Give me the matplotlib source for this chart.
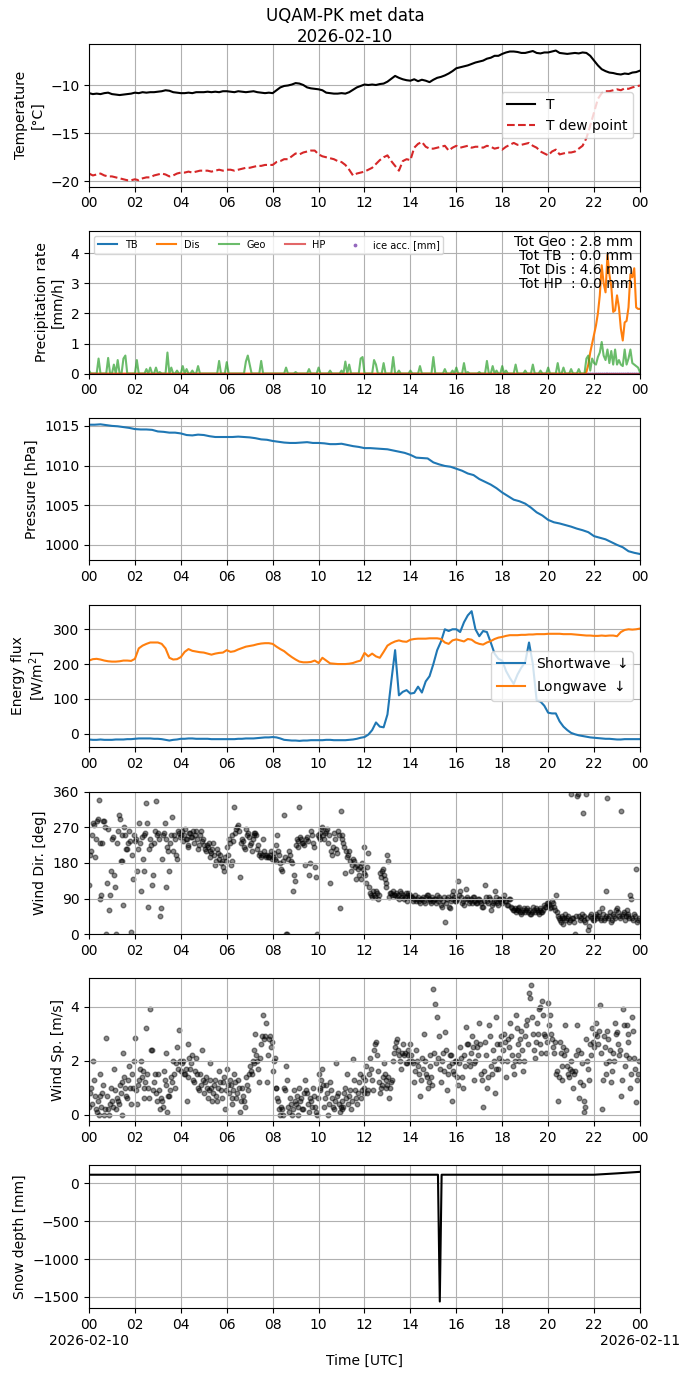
import numpy as np
import pandas as pd
import matplotlib
matplotlib.use('Agg')
import matplotlib.pyplot as plt
import matplotlib.dates as mdates
from matplotlib.ticker import FuncFormatter

day = pd.Timestamp('2026-02-10')

# --- temperature, 10 min steps [degC]
temp = [
    -10.8, -10.9, -10.85, -10.9, -10.8, -10.75,
    -10.9, -10.95, -11.0, -10.95, -10.9, -10.85,
    -10.75, -10.8, -10.7, -10.75, -10.7, -10.7,
    -10.65, -10.6, -10.5, -10.55, -10.7, -10.75,
    -10.8, -10.8, -10.75, -10.8, -10.7, -10.7,
    -10.7, -10.65, -10.7, -10.65, -10.7, -10.6,
    -10.6, -10.65, -10.7, -10.6, -10.65, -10.7,
    -10.65, -10.6, -10.7, -10.75, -10.8, -10.75,
    -10.8, -10.5, -10.2, -10.05, -10.0, -9.9,
    -9.75, -9.8, -9.95, -10.2, -10.3, -10.35,
    -10.4, -10.5, -10.75, -10.8, -10.85, -10.85,
    -10.8, -10.85, -10.7, -10.45, -10.2, -10.05,
    -9.9, -9.95, -9.9, -9.95, -9.85, -9.8,
    -9.6, -9.3, -9.0, -9.2, -9.35, -9.45,
    -9.5, -9.35, -9.55, -9.4, -9.5, -9.65,
    -9.4, -9.2, -9.1, -8.95, -8.75, -8.5,
    -8.2, -8.1, -8.0, -7.9, -7.75, -7.6,
    -7.5, -7.4, -7.2, -7.1, -6.9, -6.9,
    -6.7, -6.55, -6.45, -6.45, -6.5, -6.6,
    -6.6, -6.5, -6.4, -6.6, -6.65, -6.55,
    -6.55, -6.45, -6.35, -6.6, -6.65, -6.7,
    -6.65, -6.6, -6.65, -6.55, -6.6, -6.9,
    -7.4, -7.9, -8.3, -8.5, -8.65, -8.7,
    -8.8, -8.85, -8.75, -8.8, -8.65, -8.6,
    -8.45,
]
dew_point = [
    -19.2, -19.4, -19.3, -19.2, -19.4, -19.5,
    -19.5, -19.6, -19.7, -19.8, -19.9, -19.9,
    -19.8, -19.9, -19.7, -19.6, -19.6, -19.4,
    -19.3, -19.2, -19.3, -19.5, -19.4, -19.2,
    -19.1, -19.1, -19.0, -19.1, -19.0, -18.9,
    -18.9, -18.9, -19.0, -18.9, -18.8, -18.9,
    -18.8, -18.8, -18.9, -18.8, -18.7, -18.6,
    -18.6, -18.5, -18.4, -18.4, -18.3, -18.3,
    -18.3, -18.0, -17.9, -17.7, -17.7, -17.4,
    -17.1, -17.2, -17.0, -16.9, -16.8, -16.8,
    -17.2, -17.4, -17.5, -17.6, -17.7, -17.9,
    -18.0, -18.3, -18.8, -19.4, -19.2, -19.1,
    -19.0, -18.8, -18.6, -18.2, -17.8, -17.5,
    -17.3, -17.9, -18.4, -18.9, -17.9, -17.7,
    -17.8, -16.5, -16.1, -15.9, -16.4, -16.6,
    -16.6, -16.5, -16.4, -16.3, -16.8, -16.5,
    -16.3, -16.5, -16.4, -16.3, -16.5, -16.4,
    -16.4, -16.5, -16.3, -16.4, -16.6, -16.5,
    -16.7, -16.4, -16.2, -16.0, -16.2, -16.2,
    -16.1, -16.0, -16.3, -16.5, -16.9, -17.1,
    -17.3, -16.9, -16.7, -17.2, -17.1, -17.0,
    -17.0, -16.9, -16.6, -16.3, -15.5, -14.2,
    -12.8, -11.4, -10.8, -10.6, -10.6, -10.5,
    -10.4, -10.5, -10.3, -10.35, -10.2, -10.1,
    -10.0,
]

# --- precipitation rate, 5 min steps [mm/h]
geo_rate = [
    0.1, 0, 0, 0, 0, 0.5, 0, 0, 0, 0, 0.52, 0,
    0, 0.3, 0, 0.45, 0, 0, 0.5, 0.6, 0, 0, 0, 0,
    0, 0.45, 0, 0, 0, 0, 0.15, 0, 0.2, 0, 0, 0.2,
    0, 0.05, 0, 0, 0, 0.7, 0, 0.2, 0, 0, 0.1, 0,
    0, 0.25, 0, 0.15, 0, 0, 0.1, 0, 0, 0.25, 0, 0,
    0, 0, 0, 0, 0, 0, 0, 0, 0.42, 0, 0, 0,
    0.38, 0, 0, 0, 0, 0, 0, 0, 0, 0, 0.4, 0.6,
    0.3, 0, 0, 0, 0, 0, 0.42, 0, 0, 0, 0, 0,
    0, 0, 0, 0, 0, 0, 0, 0.2, 0, 0, 0, 0,
    0.05, 0, 0, 0, 0, 0, 0, 0.15, 0, 0, 0, 0,
    0.2, 0, 0, 0, 0, 0, 0.1, 0, 0, 0, 0, 0,
    0.1, 0, 0.4, 0, 0.3, 0, 0, 0, 0, 0, 0.5, 0.55,
    0, 0, 0, 0, 0, 0.45, 0.3, 0, 0, 0, 0.35, 0,
    0, 0, 0, 0.55, 0, 0, 0.1, 0, 0, 0, 0, 0,
    0.1, 0, 0, 0, 0, 0.25, 0, 0, 0, 0, 0, 0,
    0.55, 0, 0, 0, 0, 0, 0.15, 0, 0, 0, 0.1, 0,
    0.2, 0, 0, 0, 0.35, 0, 0.05, 0, 0, 0, 0, 0,
    0.05, 0, 0, 0, 0.42, 0, 0, 0.25, 0, 0.1, 0, 0,
    0.25, 0, 0.1, 0, 0, 0, 0, 0.3, 0, 0, 0, 0,
    0.1, 0, 0, 0, 0.3, 0, 0, 0, 0.1, 0, 0, 0,
    0.2, 0, 0, 0, 0, 0.35, 0, 0, 0.2, 0, 0, 0,
    0.15, 0, 0, 0, 0.15, 0, 0, 0, 0.5, 0.6, 0.1, 0.5,
    0.35, 0.3, 0.55, 0.7, 1.05, 0.6, 0.45, 0.8, 0.35, 0.75, 0.3, 0.8,
    0.3, 0.45, 0.3, 0.25, 0.8, 0.3, 0.5, 0.8, 0.35, 0.3, 0.25, 0.2,
    0.05,
]
# disdrometer: zero before 21:00, values from 21:00 on
dis_rate_evening = [
    0, 0, 0, 0, 0, 0, 0, 0, 0.05, 0.3, 0.7, 1.0,
    1.3, 1.6, 2.0, 2.6, 3.6, 3.0, 2.7, 3.95, 3.3, 2.9, 2.05, 2.1,
    2.6, 2.2, 1.5, 1.1, 1.7, 1.75, 2.2, 3.3, 3.2, 3.5, 2.2, 2.15,
    2.15,
]
tb_total = 0.0
hp_total = 0.0
totals = {'Geo': 2.8, 'TB': 0.0, 'Dis': 4.6, 'HP': 0.0}

# --- pressure, 15 min steps [hPa]
pressure = [
    1015.15, 1015.15, 1015.2, 1015.1,
    1015.0, 1014.95, 1014.85, 1014.75,
    1014.6, 1014.55, 1014.55, 1014.5,
    1014.3, 1014.25, 1014.15, 1014.15,
    1014.05, 1013.85, 1013.8, 1013.9,
    1013.85, 1013.7, 1013.6, 1013.6,
    1013.6, 1013.6, 1013.65, 1013.6,
    1013.55, 1013.45, 1013.3, 1013.25,
    1013.1, 1013.0, 1012.9, 1012.85,
    1012.85, 1012.9, 1012.95, 1012.85,
    1012.85, 1012.8, 1012.7, 1012.7,
    1012.75, 1012.6, 1012.45, 1012.35,
    1012.2, 1012.2, 1012.15, 1012.1,
    1012.05, 1011.9, 1011.75, 1011.6,
    1011.35, 1011.0, 1010.95, 1010.9,
    1010.4, 1010.15, 1009.95, 1009.85,
    1009.6, 1009.35, 1009.0, 1008.8,
    1008.3, 1007.95, 1007.6, 1007.15,
    1006.6, 1006.15, 1005.7, 1005.5,
    1005.2, 1004.7, 1004.1, 1003.7,
    1003.15, 1002.85, 1002.7, 1002.5,
    1002.3, 1002.05, 1001.85, 1001.6,
    1001.1, 1000.9, 1000.7, 1000.35,
    1000.0, 999.7, 999.2, 999.0,
    998.85,
]

# --- radiation, 10 min steps [W/m2]
shortwave = [
    -17, -18, -18, -17, -18, -18,
    -18, -17, -17, -17, -16, -16,
    -15, -14, -14, -14, -14, -15,
    -15, -16, -18, -20, -18, -17,
    -15, -15, -14, -14, -15, -15,
    -15, -15, -16, -16, -16, -16,
    -16, -16, -16, -15, -15, -14,
    -14, -14, -13, -12, -11, -11,
    -10, -11, -14, -18, -19, -20,
    -20, -21, -20, -20, -19, -19,
    -19, -19, -18, -18, -19, -19,
    -19, -19, -18, -17, -15, -12,
    -10, -3, 10, 32, 20, 18,
    55, 150, 240, 110, 120, 125,
    115, 117, 135, 118, 150, 165,
    200, 240, 265, 300, 295, 300,
    300, 292, 320, 340, 352, 300,
    280, 295, 292, 262, 230, 215,
    210, 180, 160, 143, 170, 190,
    205, 262, 200, 95, 92, 80,
    60, 58, 58, 35, 20, 10,
    2, -2, -5, -7, -9, -11,
    -12, -13, -14, -15, -15, -16,
    -17, -17, -16, -16, -16, -16,
    -16,
]
longwave = [
    210, 214, 215, 213, 210, 208,
    207, 207, 208, 210, 210, 209,
    215, 245, 253, 258, 262, 262,
    262, 258, 245, 218, 213, 214,
    220, 235, 243, 238, 236, 234,
    233, 230, 227, 230, 232, 233,
    240, 235, 237, 242, 246, 250,
    252, 254, 257, 259, 260, 260,
    258, 250, 243, 237, 228, 220,
    213, 207, 205, 205, 206, 210,
    203, 218, 210, 202, 201, 200,
    200, 200, 201, 203, 207, 210,
    232, 222, 230, 222, 218, 235,
    253, 260, 265, 268, 265, 264,
    270, 272, 273, 273, 273, 274,
    274, 274, 272, 262, 258, 268,
    271, 268, 265, 272, 270, 262,
    258, 256, 262, 266, 272, 276,
    278, 281, 283, 283, 283, 284,
    284, 285, 285, 286, 286, 286,
    287, 287, 287, 287, 286, 286,
    286, 285, 284, 283, 282, 282,
    281, 281, 282, 281, 282, 282,
    280, 292, 298, 300, 299, 300,
    302,
]

# --- wind, 2.5 min steps
wind_dir = [
    125, 200, 210, 250, 280, 275, 195, 240, 285, 290, 340, 230, 90, 100, 230, 285, 285, 270, 0, 130, 265, 60, 100, 160,
    240, 245, 150, 120, 0, 230, 260, 300, 290, 185, 185, 250, 75, 270, 250, 215, 215, 230, 260, 235, 5, 200, 140, 250,
    235, 240, 160, 215, 280, 230, 110, 245, 190, 160, 250, 255, 330, 280, 70, 215, 240, 225, 125, 150, 230, 260, 335, 250,
    255, 240, 45, 65, 190, 250, 255, 280, 120, 240, 220, 210, 160, 230, 250, 295, 210, 250, 240, 200, 190, 260, 255, 245,
    250, 260, 235, 250, 265, 240, 240, 225, 220, 255, 255, 245, 245, 260, 230, 250, 260, 240, 215, 225, 250, 260, 235, 240,
    225, 215, 210, 225, 220, 230, 195, 210, 205, 215, 230, 200, 175, 185, 215, 205, 190, 200, 180, 185, 170, 160, 195, 185,
    220, 200, 240, 230, 175, 185, 250, 235, 320, 255, 265, 270, 275, 260, 145, 230, 240, 235, 220, 215, 265, 250, 255, 245,
    225, 230, 210, 240, 250, 255, 255, 250, 215, 225, 200, 205, 195, 200, 240, 210, 200, 195, 200, 195, 195, 200, 210, 190,
    195, 205, 190, 185, 225, 250, 210, 200, 180, 165, 160, 185, 300, 195, 0, 0, 190, 210, 200, 185, 180, 110, 150, 135,
    225, 240, 235, 220, 320, 245, 240, 230, 230, 225, 175, 240, 245, 235, 150, 180, 260, 250, 230, 220, 170, 145, 0, 250,
    245, 240, 255, 265, 270, 250, 240, 255, 260, 265, 230, 250, 130, 210, 200, 220, 255, 240, 215, 205, 260, 250, 65, 310,
    250, 240, 230, 220, 155, 210, 195, 200, 210, 185, 160, 175, 190, 185, 170, 140, 175, 165, 150, 170, 140, 180, 165, 220,
    155, 150, 130, 170, 205, 120, 105, 100, 95, 110, 100, 95, 110, 105, 90, 100, 155, 145, 160, 165, 150, 140, 120, 130,
    200, 185, 95, 105, 105, 100, 110, 100, 100, 105, 95, 100, 90, 110, 105, 95, 100, 90, 95, 105, 85, 100, 105, 95,
    100, 95, 95, 85, 90, 100, 85, 90, 95, 85, 80, 90, 90, 95, 85, 80, 95, 100, 100, 90, 90, 85, 80, 95,
    85, 90, 90, 80, 100, 85, 95, 90, 75, 70, 85, 95, 30, 80, 90, 95, 70, 65, 85, 90, 100, 110, 95, 85,
    85, 90, 135, 100, 110, 95, 80, 85, 75, 90, 115, 95, 90, 80, 85, 90, 80, 95, 95, 85, 85, 80, 80, 90,
    90, 85, 80, 70, 70, 85, 125, 95, 85, 80, 95, 90, 60, 75, 80, 85, 110, 95, 85, 80, 75, 90, 90, 85,
    80, 90, 100, 85, 85, 75, 75, 90, 90, 70, 65, 60, 60, 65, 55, 60, 60, 65, 70, 55, 50, 55, 60, 65,
    55, 60, 65, 55, 60, 50, 50, 55, 70, 60, 55, 65, 60, 55, 50, 60, 65, 55, 55, 60, 75, 70, 70, 80,
    80, 75, 65, 70, 85, 80, 70, 60, 100, 55, 45, 40, 35, 30, 40, 45, 25, 40, 50, 35, 40, 45, 30, 35,
    355, 40, 40, 30, 0, 45, 350, 355, 45, 35, 40, 50, 305, 45, 35, 30, 355, 40, 10, 20, 45, 50, 40, 35,
    35, 45, 50, 40, 45, 55, 40, 35, 65, 50, 35, 40, 110, 45, 345, 40, 45, 55, 30, 35, 50, 45, 40, 60,
    65, 55, 45, 40, 310, 45, 50, 55, 35, 45, 60, 50, 45, 40, 100, 90, 40, 35, 50, 45, 165, 30, 35, 40,
]
wind_speed = [
    0.3, 0.8, 1.0, 0.4, 2.0, 1.3, 0.7, 0.2, 0.1, 0.5, 0.0, 0.7, 1.5, 0.3, 0.8, 1.1, 0.0, 0.2, 2.85, 0.7, 0.2, 0.0, 0.4, 1.0,
    0.5, 0.3, 1.7, 0.9, 0.2, 0.6, 0.5, 0.4, 1.1, 0.8, 0.0, 1.2, 2.3, 1.4, 1.0, 0.7, 0.6, 1.3, 1.8, 1.0, 0.4, 1.5, 1.0, 2.0,
    2.85, 0.9, 0.4, 1.1, 1.3, 1.7, 2.0, 1.4, 1.6, 1.0, 0.6, 1.2, 3.2, 1.5, 1.0, 0.6, 3.9, 2.4, 2.4, 0.9, 1.2, 1.5, 0.8, 0.5,
    1.5, 0.9, 0.2, 0.6, 0.5, 0.3, 1.6, 1.3, 2.3, 1.1, 0.1, 0.7, 0.7, 0.9, 1.4, 1.2, 2.0, 1.5, 1.0, 1.9, 2.5, 1.7, 3.15, 2.0,
    1.6, 1.9, 2.0, 1.5, 1.5, 1.7, 0.5, 1.4, 2.6, 2.1, 1.7, 1.9, 2.2, 1.3, 1.2, 1.6, 2.1, 1.5, 1.0, 0.9, 1.5, 1.1, 2.4, 1.3,
    0.8, 1.2, 1.4, 1.0, 0.6, 0.9, 1.9, 1.3, 1.0, 0.5, 0.8, 1.1, 1.3, 0.7, 0.5, 1.0, 1.6, 1.2, 0.9, 0.6, 1.2, 1.4, 0.2, 0.9,
    1.7, 1.1, 0.8, 1.3, 1.1, 0.6, 0.4, 0.9, 1.5, 1.2, 0.6, 0.8, 1.3, 1.0, 0.1, 0.5, 1.0, 0.7, 0.5, 0.3, 1.4, 1.1, 0.9, 1.5,
    1.8, 1.6, 1.5, 2.0, 2.4, 1.9, 3.0, 2.2, 2.0, 1.7, 1.2, 2.1, 2.6, 2.9, 3.7, 2.8, 2.9, 3.4, 1.2, 2.2, 2.8, 2.9, 2.5, 2.7,
    1.6, 2.0, 2.1, 1.0, 1.0, 0.6, 0.5, 0.2, 0.0, 0.3, 0.2, 0.0, 1.0, 0.9, 1.8, 1.3, 0.3, 0.1, 0.6, 0.4, 0.0, 0.2, 0.9, 0.5,
    0.4, 0.7, 0.0, 0.3, 1.0, 0.5, 0.6, 0.2, 0.2, 0.8, 1.3, 0.9, 0.8, 0.4, 0.1, 0.6, 0.5, 0.3, 1.0, 0.7, 0.3, 0.1, 0.0, 0.6,
    1.5, 1.0, 0.9, 1.3, 1.7, 1.1, 0.3, 0.6, 1.1, 0.8, 0.0, 0.4, 1.2, 0.9, 0.6, 0.3, 0.2, 0.5, 1.9, 0.7, 0.8, 0.4, 0.1, 0.3,
    0.5, 0.2, 0.3, 0.8, 1.0, 0.6, 1.5, 0.4, 0.7, 0.9, 0.2, 0.5, 2.05, 1.3, 0.9, 0.6, 0.4, 0.8, 1.2, 1.5, 0.6, 0.9, 1.4, 0.8,
    1.0, 1.3, 1.8, 0.8, 0.9, 1.5, 2.1, 1.7, 1.3, 0.9, 2.4, 2.6, 2.7, 2.2, 1.6, 1.2, 0.8, 1.0, 1.1, 1.4, 1.9, 1.5, 1.3, 1.0,
    1.1, 1.4, 0.6, 1.0, 1.2, 1.3, 2.0, 2.3, 2.5, 2.7, 2.8, 2.4, 2.2, 2.0, 1.7, 2.3, 2.6, 2.2, 2.3, 1.9, 1.9, 2.4, 2.2, 2.0,
    2.6, 2.2, 2.0, 1.9, 1.2, 1.6, 2.4, 2.0, 1.8, 1.5, 0.7, 1.3, 2.1, 1.7, 3.0, 2.0, 1.5, 1.4, 1.0, 1.2, 2.2, 1.8, 1.4, 1.1,
    4.65, 2.3, 4.1, 1.9, 3.6, 2.1, 2.9, 1.7, 1.2, 2.0, 2.3, 1.6, 3.05, 2.4, 0.9, 1.5, 1.8, 2.2, 2.2, 1.9, 0.5, 1.6, 1.5, 2.0,
    2.0, 1.4, 1.1, 1.9, 2.5, 2.1, 1.4, 1.0, 2.2, 1.8, 3.25, 2.6, 2.6, 2.0, 1.8, 2.3, 2.9, 2.5, 1.3, 1.9, 2.0, 2.7, 2.5, 2.2,
    3.4, 2.6, 1.5, 1.3, 0.3, 1.6, 2.7, 2.2, 1.0, 1.4, 3.3, 2.9, 1.8, 1.5, 2.4, 2.0, 0.8, 1.7, 3.6, 2.6, 1.7, 2.1, 2.6, 2.9,
    2.0, 2.4, 3.0, 2.7, 1.4, 2.0, 2.8, 2.5, 3.4, 2.9, 2.2, 1.8, 1.5, 2.0, 3.7, 3.2, 2.6, 2.2, 2.0, 2.8, 3.1, 2.4, 1.6, 2.0,
    2.9, 3.3, 3.5, 2.6, 4.5, 4.3, 4.8, 3.6, 3.0, 2.4, 2.1, 2.7, 3.4, 3.0, 3.9, 4.0, 2.6, 2.3, 4.2, 3.7, 3.0, 2.9, 2.3, 2.7,
    4.15, 3.3, 3.7, 3.0, 2.8, 2.5, 2.3, 2.7, 1.5, 1.6, 0.5, 1.4, 2.7, 2.3, 1.3, 1.8, 2.5, 2.2, 3.3, 2.4, 1.8, 1.5, 1.4, 1.7,
    2.0, 1.6, 1.0, 1.5, 1.6, 2.2, 3.3, 2.4, 0.6, 1.2, 2.3, 1.9, 1.1, 0.5, 0.1, 0.3, 2.8, 2.0, 1.7, 1.3, 2.6, 2.2, 3.2, 2.7,
    2.5, 3.0, 3.4, 2.9, 2.6, 3.1, 4.05, 2.3, 0.2, 1.3, 2.9, 2.5, 1.5, 1.9, 3.1, 2.8, 2.0, 2.4, 1.2, 1.6, 2.3, 2.0, 3.4, 3.0,
    3.05, 2.6, 2.2, 2.4, 0.7, 1.3, 3.9, 3.3, 1.8, 2.2, 3.3, 3.0, 2.7, 2.1, 1.0, 1.5, 3.6, 3.1, 2.1, 1.7, 0.45, 1.3, 1.5, 2.0,
]

# --- snow depth [mm] (sensor glitch around 15:15)
snow_hours = [0, 4, 8, 12, 15.2, 15.28, 15.36, 18, 22, 23, 24]
snow_depth = [110, 110, 110, 110, 110, -1560, 110, 110, 110, 128, 148]


def times(n, minutes):
    return day + pd.to_timedelta(np.arange(n) * minutes, unit='m')


t10 = times(len(temp), 10)
t5_geo = times(len(geo_rate), 5)
n_dis_zero = 21 * 12
dis_rate = np.concatenate([np.zeros(n_dis_zero), dis_rate_evening])
t5_dis = times(len(dis_rate), 5)
t15 = times(len(pressure), 15)
t_wind = times(len(wind_dir), 2.5)
t_snow = day + pd.to_timedelta(np.array(snow_hours), unit='h')
ice_times = t5_dis[t5_dis >= day + pd.Timedelta(hours=21, minutes=40)]

fig, axes = plt.subplots(7, 1, figsize=(6.9, 13.77))
fig.subplots_adjust(left=0.129, right=0.9275, top=0.968, bottom=0.0501, hspace=0.31)
fig.suptitle('UQAM-PK met data\n2026-02-10', y=0.995, fontsize=12)

# temperature
ax = axes[0]
ax.plot(t10, temp, color='k', lw=1.5, label='T')
ax.plot(t10, dew_point, color='tab:red', ls='--', lw=1.5, label='T dew point')
ax.set_ylabel('Temperature\n[°C]')
ax.legend(loc='center right')

# precipitation
ax = axes[1]
ax.plot(t5_geo, np.zeros(len(t5_geo)) + tb_total, color='tab:blue', lw=1.5, label='TB')
ax.plot(t5_dis, dis_rate, color='tab:orange', lw=1.5, label='Dis')
ax.plot(t5_geo, geo_rate, color='tab:green', lw=1.5, alpha=0.7, label='Geo')
ax.plot(t5_geo, np.zeros(len(t5_geo)) + hp_total, color='tab:red', lw=1.5, alpha=0.7, label='HP')
ax.scatter(ice_times, np.zeros(len(ice_times)), color='tab:purple', s=3, label='ice acc. [mm]')
ax.set_ylim(0, 1.2 * max(dis_rate.max(), max(geo_rate)))
ax.set_ylabel('Precipitation rate\n[mm/h]')
ax.legend(loc='upper left', ncol=5, fontsize=7)
tot_txt = '\n'.join([
    f"Tot Geo : {totals['Geo']:.1f} mm",
    f"Tot TB  : {totals['TB']:.1f} mm",
    f"Tot Dis : {totals['Dis']:.1f} mm",
    f"Tot HP  : {totals['HP']:.1f} mm",
])
ax.text(0.987, 0.975, tot_txt, transform=ax.transAxes, ha='right', va='top',
        fontsize=10, linespacing=1.0)

# pressure
ax = axes[2]
ax.plot(t15, pressure, color='tab:blue', lw=1.5)
ax.set_ylabel('Pressure [hPa]')

# radiation
ax = axes[3]
ax.plot(t10, shortwave, color='tab:blue', lw=1.5, label='Shortwave $\\downarrow$')
ax.plot(t10, longwave, color='tab:orange', lw=1.5, label='Longwave $\\downarrow$')
ax.set_ylabel('Energy flux\n[W/m$^2$]')
ax.legend(loc='center right')

# wind direction
ax = axes[4]
ax.scatter(t_wind, wind_dir, color='k', s=11, alpha=0.45)
ax.set_ylim(0, 360)
ax.set_yticks([0, 90, 180, 270, 360])
ax.set_ylabel('Wind Dir. [deg]')

# wind speed
ax = axes[5]
ax.scatter(t_wind, wind_speed, color='k', s=11, alpha=0.45)
ax.set_ylabel('Wind Sp. [m/s]')

# snow depth
ax = axes[6]
ax.plot(t_snow, snow_depth, color='k', lw=1.5)
ax.set_ylabel('Snow depth [mm]')
ax.set_xlabel('Time [UTC]')


def bottom_fmt(x, pos):
    d = mdates.num2date(x)
    if d.hour == 0:
        return d.strftime('%H\n%Y-%m-%d')
    return d.strftime('%H')


for i, ax in enumerate(axes):
    ax.set_xlim(day, day + pd.Timedelta(days=1))
    ax.xaxis.set_major_locator(mdates.HourLocator(byhour=range(0, 24, 2)))
    if i == len(axes) - 1:
        ax.xaxis.set_major_formatter(FuncFormatter(bottom_fmt))
    else:
        ax.xaxis.set_major_formatter(mdates.DateFormatter('%H'))
    ax.grid(True)

fig.savefig('out.png', dpi=100)
